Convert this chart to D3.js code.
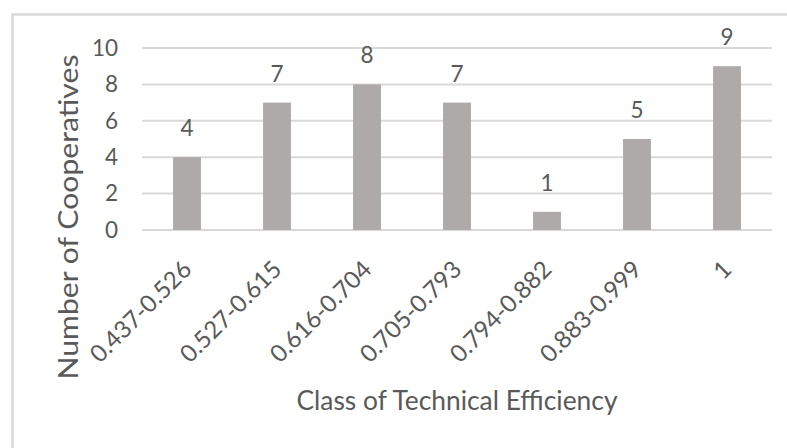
<!DOCTYPE html>
<html>
<head>
<meta charset="utf-8">
<script src="https://cdn.jsdelivr.net/npm/d3@7"></script>
<style>
  html, body { margin: 0; padding: 0; background: #fff; }
  svg { display: block; font-family: Lato, "Open Sans", sans-serif; }
</style>
</head>
<body>
<svg id="chart" width="787" height="448"></svg>
<script>
// Efficiency classes and number of cooperatives in each
const classes = ["0.437-0.526", "0.527-0.615", "0.616-0.704", "0.705-0.793", "0.794-0.882", "0.883-0.999", "1"];
const counts = [4, 7, 8, 7, 1, 5, 9];
const yTicks = [0, 2, 4, 6, 8, 10];

const xTitle = "Class of Technical Efficiency";
const yTitle = "Number of Cooperatives";

const textColor = "#595959";
const gridColor = "#D9D9D9";
const barColor = "#AEAAAA";

const svg = d3.select("#chart");

// chart frame (runs past the right and bottom edges)
svg.append("rect")
  .attr("x", 12.5).attr("y", 14.5)
  .attr("width", 800).attr("height", 460)
  .attr("fill", "#fff")
  .attr("stroke", gridColor)
  .attr("stroke-width", 2.5);

const plot = { left: 142, right: 772, top: 48, bottom: 230 };

const x = d3.scaleBand()
  .domain(classes)
  .range([plot.left, plot.right])
  .paddingInner(0.69)
  .paddingOuter(0.345);

const y = d3.scaleLinear()
  .domain([0, 10])
  .range([plot.bottom, plot.top]);

// horizontal gridlines
svg.append("g")
  .selectAll("line")
  .data(yTicks)
  .join("line")
  .attr("x1", plot.left).attr("x2", plot.right)
  .attr("y1", d => y(d)).attr("y2", d => y(d))
  .attr("stroke", gridColor)
  .attr("stroke-width", 2);

// y axis tick labels
const yAxis = d3.axisLeft(y).tickValues(yTicks).tickSize(0).tickPadding(0);
const yG = svg.append("g")
  .attr("transform", `translate(118,0)`)
  .call(yAxis);
yG.select(".domain").remove();
yG.selectAll("text")
  .attr("fill", textColor)
  .attr("font-size", 22.5)
  .attr("font-family", "Lato, sans-serif");

// bars
svg.append("g")
  .selectAll("rect")
  .data(counts)
  .join("rect")
  .attr("x", (d, i) => x(classes[i]))
  .attr("y", d => y(d))
  .attr("width", x.bandwidth())
  .attr("height", d => y(0) - y(d))
  .attr("fill", barColor);

// value labels above bars
svg.append("g")
  .selectAll("text")
  .data(counts)
  .join("text")
  .attr("x", (d, i) => x(classes[i]) + x.bandwidth() / 2)
  .attr("y", d => y(d) - 21)
  .attr("text-anchor", "middle")
  .attr("fill", textColor)
  .attr("font-size", 22.5)
  .text(d => d);

// x axis category labels, rotated
const xAxis = d3.axisBottom(x).tickSize(0).tickPadding(0);
const xG = svg.append("g")
  .attr("transform", `translate(0,${plot.bottom})`)
  .call(xAxis);
xG.select(".domain").remove();
xG.selectAll(".tick text")
  .attr("fill", textColor)
  .attr("font-size", 24)
  .attr("font-family", "Lato, sans-serif")
  .attr("text-anchor", "end")
  .attr("dy", null)
  .attr("y", 0)
  .attr("transform", "translate(6,41) rotate(-45)");

// axis titles
svg.append("text")
  .attr("x", (plot.left + plot.right) / 2)
  .attr("y", 410)
  .attr("text-anchor", "middle")
  .attr("fill", textColor)
  .attr("font-size", 27)
  .attr("textLength", 321)
  .attr("lengthAdjust", "spacingAndGlyphs")
  .text(xTitle);

svg.append("text")
  .attr("transform", "translate(78,217) rotate(-90)")
  .attr("text-anchor", "middle")
  .attr("fill", textColor)
  .attr("font-size", 26)
  .attr("textLength", 325)
  .attr("lengthAdjust", "spacingAndGlyphs")
  .text(yTitle);
</script>
</body>
</html>
